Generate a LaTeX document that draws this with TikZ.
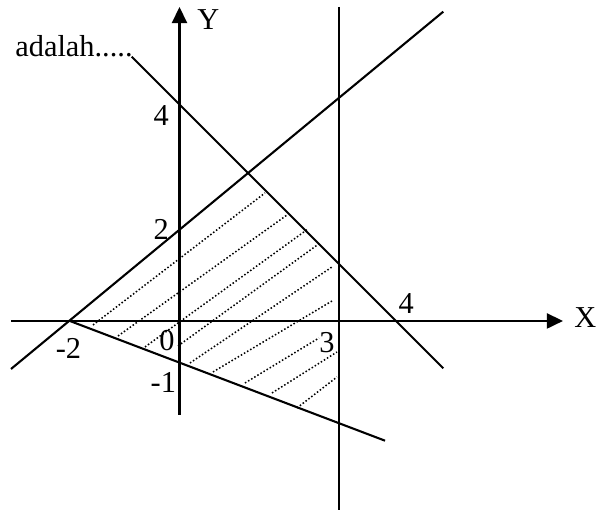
\documentclass[tikz,border=0pt]{standalone}
\usepackage{fontspec}
\setmainfont{Liberation Serif}
\usetikzlibrary{arrows.meta}

\begin{document}
\begin{tikzpicture}[>={Triangle[length=0.3cm,width=0.28cm]}, font=\fontsize{16}{19}\selectfont,
    line/.style={line width=1.1pt},
    hatch/.style={line width=0.8pt, dash pattern=on 0.8pt off 1.1pt},
    tick/.style={inner sep=0pt}]
    \useasboundingbox (-3.324,-3.519) rectangle (7.75,5.944);

    % Axes
    \coordinate (xl) at (-3.117,0);
    \coordinate (xr) at (7.102,0);
    \coordinate (yb) at (0,-1.741);
    \coordinate (yt) at (0,5.815);
    \draw[line, ->] (xl) -- (xr);
    \draw[line, ->] (yb) -- (yt);
    \node[tick] (xname) at (7.515,0.065) {X};
    \node[tick] (yname) at (0.533,5.58) {Y};

    % Boundary lines
    \coordinate (p) at (-2.03,0);
    \coordinate (r1) at (-3.12,-0.889);
    \coordinate (r2) at (4.885,5.728);
    \coordinate (f1) at (-0.885,4.894);
    \coordinate (f2) at (4.885,-0.876);
    \coordinate (l2) at (3.806,-2.217);
    \coordinate (v1) at (2.954,5.815);
    \coordinate (v2) at (2.954,-3.5);
    \draw[line] (r1) -- (r2);
    \draw[line] (f1) -- (f2);
    \draw[line] (p) -- (l2);
    \draw[line] (v1) -- (v2);

    % Shaded region
    \draw[hatch] (-1.602,-0.074) -- (1.583,2.370);
    \draw[hatch] (-1.139,-0.278) -- (1.991,1.963);
    \draw[hatch] (-0.639,-0.481) -- (2.380,1.704);
    \draw[hatch] (-0.028,-0.463) -- (2.602,1.444);
    \draw[hatch] (0.194,-0.778) -- (2.824,1.0);
    \draw[hatch] (0.620,-0.944) -- (2.824,0.370);
    \draw[hatch] (1.213,-1.148) -- (2.583,-0.315);
    \draw[hatch] (1.713,-1.333) -- (2.917,-0.574);
    \draw[hatch] (2.176,-1.611) -- (2.917,-1.037);

    % Numbers
    \node[tick] (y4) at (-0.339,3.809) {4};
    \node[tick] (y2) at (-0.339,1.70) {2};
    \node[tick] (ym1) at (-0.30,-1.139) {-1};
    \node[tick] (o) at (-0.231,-0.361) {0};
    \node[tick] (xm2) at (-2.056,-0.5) {-2};
    \node[tick] (x3) at (2.731,-0.401) {3};
    \node[tick] (x4) at (4.2,0.328) {4};

    \node[anchor=base west, inner sep=0pt] (txt) at (-3.046,4.889) {adalah.....};
\end{tikzpicture}
\end{document}
